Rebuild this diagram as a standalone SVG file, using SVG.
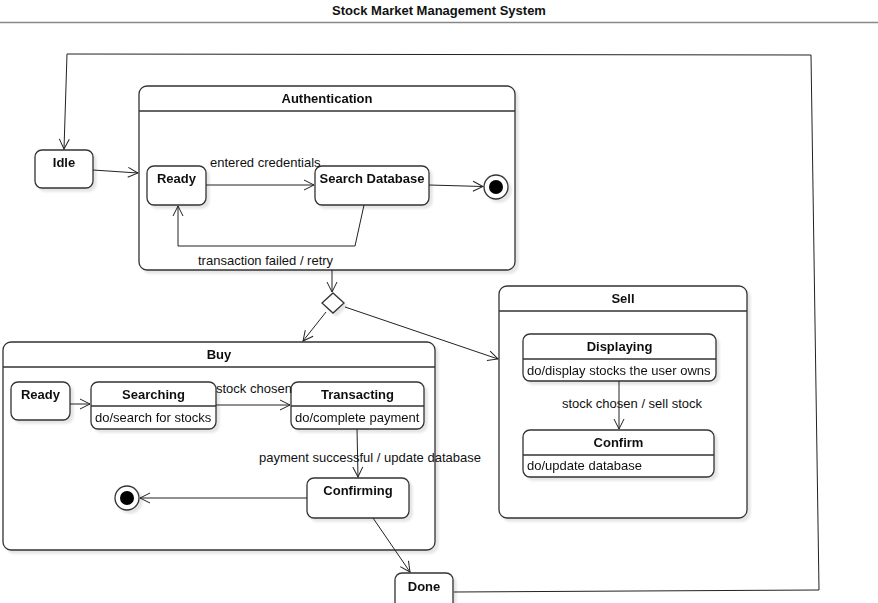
<svg xmlns="http://www.w3.org/2000/svg" width="878" height="603" viewBox="0 0 878 603">
<style>
.n{fill:#fff;stroke:#333;stroke-width:1.3}
.d{stroke:#333;stroke-width:1.3;fill:none}
.c{stroke:#222;stroke-width:1;fill:none;marker-end:url(#arr)}
text{font-family:"Liberation Sans",Arial,sans-serif;font-size:13px;fill:#111}
.b{font-weight:bold;text-anchor:middle}
.m{text-anchor:middle}
</style>
<defs>
<marker id="arr" viewBox="0 0 12 12" refX="11" refY="6" markerWidth="12" markerHeight="12" markerUnits="userSpaceOnUse" orient="auto">
<path d="M1,1 L11,6 L1,11" fill="none" stroke="#222" stroke-width="1"/>
</marker>
<filter id="sh" x="-10%" y="-10%" width="130%" height="130%">
<feDropShadow dx="3" dy="3" stdDeviation="1" flood-color="#000" flood-opacity="0.1"/>
</filter>
</defs>
<rect width="878" height="603" fill="#fff"/>
<g id="title">
<text x="439" y="15" class="b">Stock Market Management System</text>
<line x1="0" y1="22.5" x2="878" y2="22.5" stroke="#888" stroke-width="1.5"/>
</g>
<g id="auth" filter="url(#sh)">
<rect class="n" x="139" y="86" width="376" height="184" rx="8"/>
<line class="d" x1="139" y1="111" x2="515" y2="111"/>
<text x="327" y="103" class="b">Authentication</text>
</g>
<g id="buy" filter="url(#sh)">
<rect class="n" x="3" y="342" width="432" height="208" rx="8"/>
<line class="d" x1="3" y1="367" x2="435" y2="367"/>
<text x="219" y="359" class="b">Buy</text>
</g>
<g id="sell" filter="url(#sh)">
<rect class="n" x="499" y="286" width="248" height="232" rx="8"/>
<line class="d" x1="499" y1="311" x2="747" y2="311"/>
<text x="623" y="303" class="b">Sell</text>
</g>
<g id="idle" filter="url(#sh)">
<rect class="n" x="35" y="150" width="58" height="38" rx="7"/>
<text x="64" y="167" class="b">Idle</text>
</g>
<g id="auth-ready" filter="url(#sh)">
<rect class="n" x="147" y="166" width="59" height="39" rx="7"/>
<text x="176.5" y="183" class="b">Ready</text>
</g>
<g id="search-db" filter="url(#sh)">
<rect class="n" x="315" y="166" width="114" height="39" rx="7"/>
<text x="372" y="183" class="b">Search Database</text>
</g>
<g id="auth-final" filter="url(#sh)">
<circle cx="496" cy="187" r="12" fill="#fff" stroke="#333" stroke-width="1.3"/>
<circle cx="496" cy="187" r="7" fill="#000"/>
</g>
<g id="decision" filter="url(#sh)">
<polygon class="n" points="333,293 344,303 333,313 322,303"/>
</g>
<g id="displaying" filter="url(#sh)">
<rect class="n" x="523" y="334" width="193" height="47" rx="7"/>
<line class="d" x1="523" y1="359" x2="716" y2="359"/>
<text x="619.5" y="351" class="b">Displaying</text>
<text x="527" y="375">do/display stocks the user owns</text>
</g>
<g id="confirm" filter="url(#sh)">
<rect class="n" x="523" y="430" width="191" height="47" rx="7"/>
<line class="d" x1="523" y1="455" x2="714" y2="455"/>
<text x="618.5" y="447" class="b">Confirm</text>
<text x="527" y="470">do/update database</text>
</g>
<g id="buy-ready" filter="url(#sh)">
<rect class="n" x="11" y="382" width="59" height="38" rx="7"/>
<text x="40.5" y="399" class="b">Ready</text>
</g>
<g id="searching" filter="url(#sh)">
<rect class="n" x="91" y="382" width="125" height="47" rx="7"/>
<line class="d" x1="91" y1="406" x2="216" y2="406"/>
<text x="153.5" y="399" class="b">Searching</text>
<text x="95" y="422">do/search for stocks</text>
</g>
<g id="transacting" filter="url(#sh)">
<rect class="n" x="291" y="382" width="133" height="47" rx="7"/>
<line class="d" x1="291" y1="406" x2="424" y2="406"/>
<text x="357.5" y="399" class="b">Transacting</text>
<text x="295" y="422">do/complete payment</text>
</g>
<g id="confirming" filter="url(#sh)">
<rect class="n" x="307" y="478" width="102" height="40" rx="7"/>
<text x="358" y="495" class="b">Confirming</text>
</g>
<g id="buy-final" filter="url(#sh)">
<circle cx="127" cy="498" r="12" fill="#fff" stroke="#333" stroke-width="1.3"/>
<circle cx="127" cy="498" r="7" fill="#000"/>
</g>
<g id="done" filter="url(#sh)">
<rect class="n" x="395" y="573" width="58" height="40" rx="7"/>
<text x="424" y="591" class="b">Done</text>
</g>
<g id="connectors">
<polyline class="c" points="454,592 819,590 811,55 67,54 64,149"/>
<line class="c" x1="93" y1="170" x2="138" y2="173"/>
<line class="c" x1="206" y1="185" x2="314" y2="185"/>
<text x="210" y="167">entered credentials</text>
<line class="c" x1="429" y1="185" x2="483" y2="186.5"/>
<polyline class="c" points="364,205 355,246 178,246 178,206"/>
<text x="198" y="265">transaction failed / retry</text>
<line class="c" x1="332" y1="270" x2="332" y2="292"/>
<line class="c" x1="326" y1="312" x2="303" y2="341"/>
<line class="c" x1="345" y1="307" x2="498" y2="359"/>
<line class="c" x1="619" y1="381" x2="619" y2="429"/>
<text x="632" y="408" class="m">stock chosen / sell stock</text>
<line class="c" x1="70" y1="404" x2="90" y2="404"/>
<line class="c" x1="216" y1="405" x2="290" y2="405"/>
<text x="216" y="393">stock chosen</text>
<line class="c" x1="357" y1="429" x2="358" y2="477"/>
<text x="370" y="462" class="m">payment successful / update database</text>
<line class="c" x1="307" y1="498" x2="140" y2="498"/>
<line class="c" x1="373" y1="518" x2="410" y2="572"/>
</g>
</svg>
